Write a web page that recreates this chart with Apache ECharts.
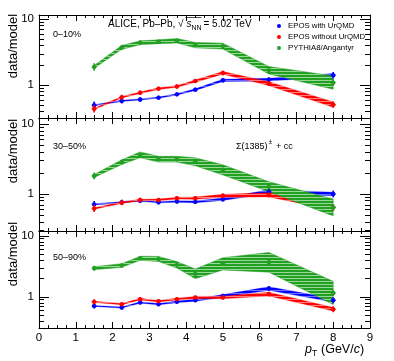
<!DOCTYPE html>
<html><head><meta charset="utf-8">
<script src="https://cdn.jsdelivr.net/npm/echarts@6/dist/echarts.min.js"></script>
<style>html,body{margin:0;padding:0;background:#fff}#c{width:394px;height:361px}</style>
</head><body><div id="c"></div>
<script>
// ---- data ----
const pT = [1.5, 2.25, 2.75, 3.25, 3.75, 4.25, 5, 6.25, 8];
const xTickLabels = ['0','1','2','3','4','5','6','7','8','9'];
const centralityLabels = ['0–10%', '30–50%', '50–90%'];
const modelNames = ['EPOS with UrQMD', 'EPOS without UrQMD', 'PYTHIA8/Angantyr'];

// 0–10%
const epos1   = [0.50, 0.58, 0.61, 0.65, 0.73, 0.86, 1.19, 1.22, 1.42];
const eposNo1 = [0.44, 0.66, 0.77, 0.89, 0.96, 1.16, 1.54, 1.06, 0.51];
const pythia1 = [1.90, 3.75, 4.40, 4.56, 4.73, 4.06, 3.92, 1.69, 1.10];
// 30–50%
const epos2   = [0.71, 0.76, 0.80, 0.76, 0.78, 0.77, 0.84, 1.08, 1.00];
const eposNo2 = [0.62, 0.75, 0.82, 0.82, 0.87, 0.87, 0.94, 0.97, 0.64];
const pythia2 = [1.81, 2.85, 3.63, 3.14, 3.14, 2.88, 2.21, 1.27, 0.64];
// 50–90%
const epos3   = [0.71, 0.67, 0.81, 0.76, 0.83, 0.88, 1.04, 1.37, 0.88];
const eposNo3 = [0.83, 0.76, 0.92, 0.85, 0.92, 0.98, 0.98, 1.11, 0.63];
const pythia3 = [2.95, 3.27, 4.29, 4.19, 3.35, 2.39, 3.48, 3.69, 1.16];

// relative band (systematic) half-widths
const sysEpos1   = [0.02, 0.02, 0.02, 0.02, 0.025, 0.03, 0.04, 0.05, 0.06];
const sysEposNo1 = [0.025, 0.025, 0.025, 0.03, 0.03, 0.04, 0.05, 0.07, 0.10];
const sysPythia1 = [0.05, 0.07, 0.07, 0.07, 0.08, 0.10, 0.11, 0.14, 0.26];
const sysEpos2   = [0.02, 0.02, 0.02, 0.02, 0.025, 0.03, 0.04, 0.06, 0.06];
const sysEposNo2 = [0.025, 0.025, 0.025, 0.03, 0.03, 0.04, 0.05, 0.07, 0.09];
const sysPythia2 = [0.05, 0.08, 0.10, 0.10, 0.10, 0.14, 0.18, 0.18, 0.32];
const sysEpos3   = [0.02, 0.02, 0.025, 0.025, 0.03, 0.04, 0.05, 0.07, 0.07];
const sysEposNo3 = [0.025, 0.025, 0.03, 0.03, 0.035, 0.04, 0.05, 0.07, 0.07];
const sysPythia3 = [0.06, 0.07, 0.08, 0.10, 0.13, 0.20, 0.26, 0.45, 0.55];

// relative statistical errors (data), per panel
const stat1 = [0.14, 0.09, 0.08, 0.07, 0.07, 0.07, 0.08, 0.09, 0.12];
const stat2 = [0.12, 0.09, 0.08, 0.07, 0.07, 0.07, 0.08, 0.09, 0.12];
const stat3 = [0.10, 0.08, 0.07, 0.07, 0.07, 0.07, 0.08, 0.09, 0.12];

const yMajor = [1, 10];
const yMinor = [0.3, 0.4, 0.5, 0.6, 0.7, 0.8, 0.9, 2, 3, 4, 5, 6, 7, 8, 9];
const yRanges = [[0.32, 11.6], [0.295, 12.2], [0.31, 12.0]];

// ---- build ----
const colors = ['#0000ff', '#ff0000', '#22a022'];
const lightColors = ['#7070ff', '#ff8080', '#9ad69a'];
const panels = [
  {vals: [epos1, eposNo1, pythia1], sys: [sysEpos1, sysEposNo1, sysPythia1], stat: stat1},
  {vals: [epos2, eposNo2, pythia2], sys: [sysEpos2, sysEposNo2, sysPythia2], stat: stat2},
  {vals: [epos3, eposNo3, pythia3], sys: [sysEpos3, sysEposNo3, sysPythia3], stat: stat3}
];
const gridBoxes = [{top: 15, height: 103}, {top: 118, height: 113}, {top: 231, height: 97}];

function pattern(c, l) {
  const cv = document.createElement('canvas');
  cv.width = 4; cv.height = 3;
  const g = cv.getContext('2d');
  g.fillStyle = c; g.fillRect(0, 0, 4, 3);
  g.fillStyle = l; g.fillRect(0, 2, 4, 1);
  return {image: cv, repeat: 'repeat'};
}
const patterns = colors.map((c, i) => pattern(c, lightColors[i]));

const FONT = 'Liberation Sans, Arial, sans-serif';
const grid = [], xAxis = [], yAxis = [], series = [];

gridBoxes.forEach((b, i) => {
  grid.push({left: 39, right: 24, top: b.top, height: b.height});
  ['bottom', 'top'].forEach(pos => {
    xAxis.push({
      gridIndex: i, type: 'value', min: 0, max: 9, interval: 1, position: pos,
      axisLine: {show: true, lineStyle: {color: '#000', width: 1}},
      axisTick: {show: true, inside: true, length: 6, lineStyle: {color: '#000'}},
      minorTick: {show: true, splitNumber: 4, length: 3, lineStyle: {color: '#000'}},
      axisLabel: {show: i === 2 && pos === 'bottom', fontSize: 11.5, color: '#000', fontFamily: FONT, margin: 4,
        formatter: v => xTickLabels[Math.round(v)] || ''},
      splitLine: {show: false}
    });
  });
  const [mn, mx] = yRanges[i];
  ['left', 'right'].forEach(pos => {
    yAxis.push({
      gridIndex: i, type: 'log', logBase: 10, min: mn, max: mx, position: pos,
      axisLine: {show: true, lineStyle: {color: '#000', width: 1}},
      axisTick: {show: true, inside: true, length: 10, customValues: yMajor, lineStyle: {color: '#000'}},
      axisLabel: {show: pos === 'left', customValues: yMajor, fontSize: 11.5, color: '#000', fontFamily: FONT, margin: 5,
        formatter: v => String(Math.round(v))},
      splitLine: {show: false}
    });
    yAxis.push({
      gridIndex: i, type: 'log', logBase: 10, min: mn, max: mx, position: pos,
      axisLine: {show: false},
      axisTick: {show: true, inside: true, length: 5, customValues: yMinor, lineStyle: {color: '#000'}},
      axisLabel: {show: false},
      splitLine: {show: false}
    });
  });
});

panels.forEach((p, i) => {
  const xi = i * 2, yi = i * 4;
  // bands
  p.vals.forEach((vals, m) => {
    const flat = [];
    vals.forEach((v, k) => { flat.push(pT[k], v / (1 + p.sys[m][k]), v * (1 + p.sys[m][k])); });
    series.push({
      type: 'custom', xAxisIndex: xi, yAxisIndex: yi, clip: true, silent: true,
      data: [flat],
      renderItem: (params, api) => {
        const n = pT.length, top = [], bot = [];
        for (let k = 0; k < n; k++) {
          const x = api.value(3 * k), lo = api.value(3 * k + 1), hi = api.value(3 * k + 2);
          top.push(api.coord([x, hi]));
          bot.unshift(api.coord([x, lo]));
        }
        return {type: 'polygon', shape: {points: top.concat(bot)},
          style: {fill: patterns[m], stroke: colors[m], lineWidth: m === 2 ? 0.5 : 0.3}};
      }
    });
  });
  // points with stat errors
  p.vals.forEach((vals, m) => {
    series.push({
      type: 'custom', xAxisIndex: xi, yAxisIndex: yi, clip: true, silent: true,
      data: vals.map((v, k) => [pT[k], v, v / (1 + p.stat[k]), v * (1 + p.stat[k])]),
      renderItem: (params, api) => {
        const c = api.coord([api.value(0), api.value(1)]);
        const lo = api.coord([api.value(0), api.value(2)]);
        const hi = api.coord([api.value(0), api.value(3)]);
        return {type: 'group', children: [
          {type: 'line', shape: {x1: lo[0], y1: lo[1], x2: hi[0], y2: hi[1]}, style: {stroke: colors[m], lineWidth: 1.6}},
          {type: 'line', shape: {x1: c[0] - 2.5, y1: c[1], x2: c[0] + 2.5, y2: c[1]}, style: {stroke: colors[m], lineWidth: 1.2}},
          {type: 'circle', shape: {cx: c[0], cy: c[1], r: 2.2}, style: {fill: colors[m]}}
        ]};
      }
    });
  });
});

const graphic = [];
// y titles
[46, 151, 254].forEach(cy => {
  graphic.push({type: 'text', x: 13, y: cy, rotation: Math.PI / 2,
    style: {text: 'data/model', fontSize: 13, fontFamily: FONT, fill: '#000', align: 'center', verticalAlign: 'middle'}});
});
// centrality labels
[35, 147, 258].forEach((cy, i) => {
  graphic.push({type: 'text', x: 53, y: cy,
    style: {text: centralityLabels[i], fontSize: 9, fontFamily: FONT, fill: '#000', align: 'left', verticalAlign: 'middle'}});
});
// title
graphic.push({type: 'text', x: 108, y: 24, style: {text: 'ALICE, Pb–Pb, √', fontSize: 10, fontFamily: FONT, fill: '#000', verticalAlign: 'middle'}});
graphic.push({type: 'text', x: 186.5, y: 24, style: {text: 's', fontSize: 10, fontStyle: 'italic', fontFamily: FONT, fill: '#000', verticalAlign: 'middle'}});
graphic.push({type: 'text', x: 191.5, y: 28, style: {text: 'NN', fontSize: 7, fontFamily: FONT, fill: '#000', verticalAlign: 'middle'}});
graphic.push({type: 'line', shape: {x1: 185.5, y1: 17.5, x2: 201.5, y2: 17.5}, style: {stroke: '#000', lineWidth: 0.7}});
graphic.push({type: 'text', x: 203.5, y: 24, style: {text: '= 5.02 TeV', fontSize: 10, fontFamily: FONT, fill: '#000', verticalAlign: 'middle'}});
// particle label
graphic.push({type: 'text', x: 236, y: 147, style: {text: 'Σ(1385)', fontSize: 9, fontFamily: FONT, fill: '#000', verticalAlign: 'middle'}});
graphic.push({type: 'text', x: 268.5, y: 142.5, style: {text: '±', fontSize: 6.5, fontFamily: FONT, fill: '#000', verticalAlign: 'middle'}});
graphic.push({type: 'text', x: 276, y: 147, style: {text: '+ cc', fontSize: 9, fontFamily: FONT, fill: '#000', verticalAlign: 'middle'}});
// legend
[26, 37, 48].forEach((cy, m) => {
  graphic.push({type: 'circle', shape: {cx: 279, cy: cy, r: 2}, style: {fill: colors[m]}});
  graphic.push({type: 'text', x: 288, y: cy, style: {text: modelNames[m], fontSize: 7.8, fontFamily: FONT, fill: '#000', verticalAlign: 'middle'}});
});
// x title
graphic.push({type: 'text', x: 305, y: 350, style: {text: 'p', fontSize: 12.5, fontStyle: 'italic', fontFamily: FONT, fill: '#000', verticalAlign: 'middle'}});
graphic.push({type: 'text', x: 312, y: 354, style: {text: 'T', fontSize: 8.5, fontFamily: FONT, fill: '#000', verticalAlign: 'middle'}});
graphic.push({type: 'text', x: 321, y: 350, style: {text: '(GeV/{i|c})', fontSize: 12.5, fontFamily: FONT, fill: '#000', verticalAlign: 'middle',
  rich: {i: {fontSize: 12.5, fontStyle: 'italic', fontFamily: FONT}}}});

const chart = echarts.init(document.getElementById('c'), null, {renderer: 'canvas'});
chart.setOption({animation: false, backgroundColor: '#fff', grid, xAxis, yAxis, series, graphic});
</script></body></html>
